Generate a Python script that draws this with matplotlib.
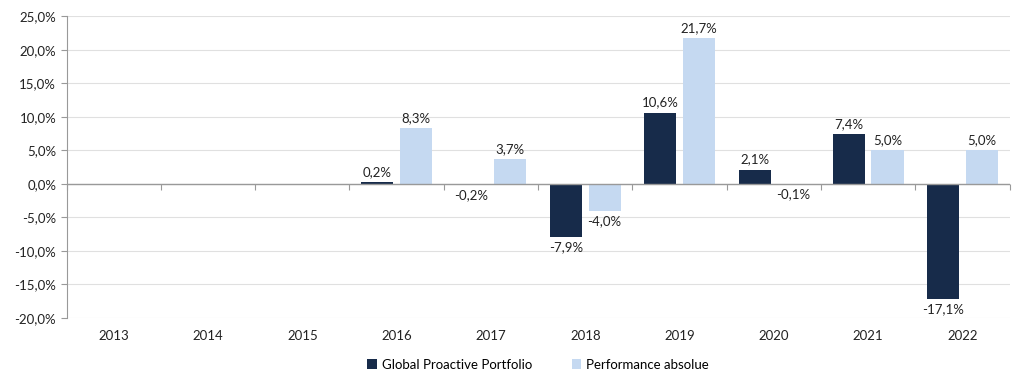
import numpy as np
import matplotlib.pyplot as plt
from matplotlib.ticker import FuncFormatter, NullFormatter

plt.rcParams['font.family'] = ['Lato', 'DejaVu Sans']

years = ['2013', '2014', '2015', '2016', '2017', '2018', '2019', '2020', '2021', '2022']
portfolio = [np.nan, np.nan, np.nan, 0.2, -0.2, -7.9, 10.6, 2.1, 7.4, -17.1]
absolue = [np.nan, np.nan, np.nan, 8.3, 3.7, -4.0, 21.7, -0.1, 5.0, 5.0]

dark = '#172b4a'
light = '#c5d9f1'
fs = 9.5

fig = plt.figure(figsize=(10.24, 3.84), dpi=100)
ax = fig.add_axes([0.065, 0.172, 0.921, 0.786])

x = np.arange(len(years))
w = 0.34
off = 0.205
b1 = ax.bar(x - off, portfolio, w, color=dark, label='Global Proactive Portfolio', zorder=3)
b2 = ax.bar(x + off, absolue, w, color=light, label='Performance absolue', zorder=3)

def fmt(v):
    return f'{v:.1f}%'.replace('.', ',')

for bars, vals in ((b1, portfolio), (b2, absolue)):
    for rect, v in zip(bars, vals):
        if np.isnan(v):
            continue
        cx = rect.get_x() + rect.get_width() / 2
        if v >= 0:
            ax.annotate(fmt(v), (cx, v), xytext=(0, 3), textcoords='offset points',
                        ha='center', va='bottom', fontsize=fs, color='#222222')
        else:
            ax.annotate(fmt(v), (cx, v), xytext=(0, -3), textcoords='offset points',
                        ha='center', va='top', fontsize=fs, color='#222222')

ax.set_ylim(-20, 25)
ax.set_yticks(np.arange(-20, 26, 5))
ax.yaxis.set_major_formatter(FuncFormatter(lambda v, p: fmt(v)))
ax.set_xlim(-0.5, len(years) - 0.5)
ax.set_xticks(x)
ax.set_xticklabels(years)
ax.tick_params(axis='x', length=0, pad=9, labelsize=fs, labelcolor='#222222')
ax.tick_params(axis='y', length=4, color='#999999', labelsize=fs, labelcolor='#222222')

ax.grid(axis='y', color='#e0e0e0', linewidth=0.8, zorder=0)
ax.axhline(0, color='#999999', linewidth=1, zorder=4)
for s in ('top', 'right', 'bottom'):
    ax.spines[s].set_visible(False)
ax.spines['left'].set_color('#999999')

# tick marks on the zero line between categories
sec = ax.secondary_xaxis(20 / 45)
sec.set_xticks(np.arange(-0.5, len(years), 1))
sec.xaxis.set_major_formatter(NullFormatter())
sec.tick_params(axis='x', direction='out', length=4, color='#999999')
for s in sec.spines.values():
    s.set_visible(False)

ax.legend(loc='upper center', bbox_to_anchor=(0.5, -0.095), ncol=2, frameon=False,
          fontsize=fs, handlelength=0.7, handleheight=0.7, columnspacing=3, handletextpad=0.4)

fig.savefig('out.png', dpi=100)
